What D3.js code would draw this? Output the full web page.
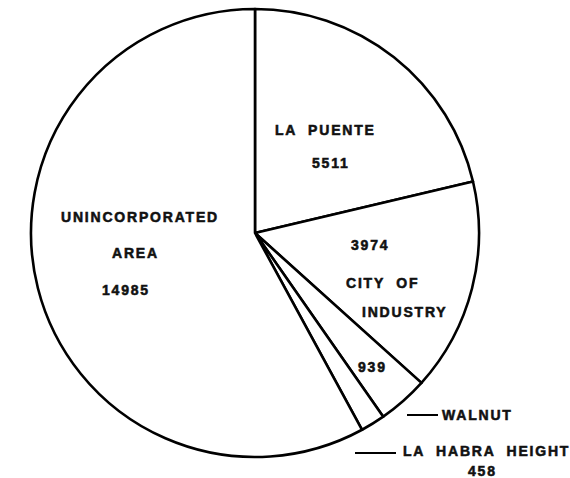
<!DOCTYPE html>
<html>
<head>
<meta charset="utf-8">
<script src="https://cdn.jsdelivr.net/npm/d3@7"></script>
<style>
  body { margin: 0; background: #fff; }
  svg text { font-family: "Liberation Sans", Arial, sans-serif; font-weight: bold; fill: #111; stroke: #111; stroke-width: 0.55px; }
</style>
</head>
<body>
<div id="chart"></div>
<script>
// slices, clockwise from 12 o'clock
var places = ["LA PUENTE", "CITY OF INDUSTRY", "WALNUT", "LA HABRA HEIGHT", "UNINCORPORATED AREA"];
var counts = [5511, 3974, 939, 458, 14985];

var svgWidth = 570;
var svgHeight = 478;
var cx = 255, cy = 233, radius = 224;

var svg = d3.select("#chart")
    .append("svg")
    .attr("width", svgWidth)
    .attr("height", svgHeight);

var pieGroup = svg.append("g")
    .attr("transform", `translate(${cx}, ${cy})`);

var pie = d3.pie()
    .sort(null)
    .value(d => d);

var arc = d3.arc()
    .innerRadius(0)
    .outerRadius(radius);

var slices = pie(counts);

pieGroup.selectAll("path")
    .data(slices)
    .enter()
    .append("path")
    .attr("d", arc)
    .attr("fill", "#fff")
    .attr("stroke", "#000")
    .attr("stroke-width", 2.6)
    .attr("stroke-linejoin", "round");

// hand-lettered labels (x = left edge, y = baseline)
var labels = [
    { t: "LA  PUENTE", x: 275, y: 135 },
    { t: String(counts[0]), x: 312, y: 168 },
    { t: String(counts[1]), x: 351, y: 250 },
    { t: "CITY  OF", x: 346, y: 288 },
    { t: "INDUSTRY", x: 362, y: 317 },
    { t: String(counts[2]), x: 358, y: 372 },
    { t: "WALNUT", x: 442, y: 420 },
    { t: "LA  HABRA  HEIGHT", x: 403, y: 456 },
    { t: String(counts[3]), x: 468, y: 476 },
    { t: "UNINCORPORATED", x: 61, y: 222 },
    { t: "AREA", x: 112, y: 258 },
    { t: String(counts[4]), x: 102, y: 295 }
];

svg.selectAll("text.lbl")
    .data(labels)
    .enter()
    .append("text")
    .attr("class", "lbl")
    .attr("x", d => d.x)
    .attr("y", d => d.y)
    .attr("font-size", "14px")
    .attr("letter-spacing", "1.8px")
    .style("white-space", "pre")
    .text(d => d.t);

// leader lines for the small slices
var leaders = [
    { x1: 407, x2: 438, y: 415 },
    { x1: 355, x2: 396, y: 453 }
];

svg.selectAll("line.leader")
    .data(leaders)
    .enter()
    .append("line")
    .attr("class", "leader")
    .attr("x1", d => d.x1)
    .attr("x2", d => d.x2)
    .attr("y1", d => d.y)
    .attr("y2", d => d.y)
    .attr("stroke", "#000")
    .attr("stroke-width", 2);
</script>
</body>
</html>
